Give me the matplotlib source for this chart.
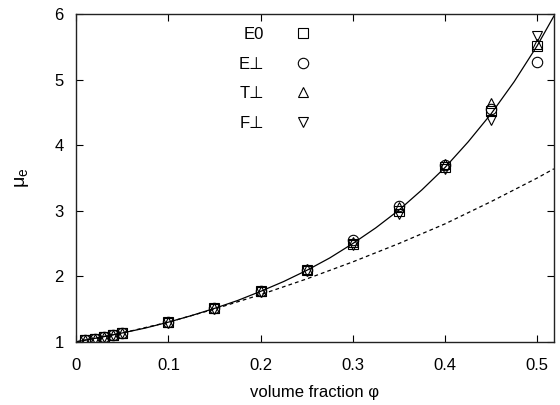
import matplotlib
matplotlib.use("Agg")
import matplotlib.pyplot as plt

plt.rcParams['font.family'] = ['Liberation Sans', 'DejaVu Sans']
plt.rcParams['mathtext.fontset'] = 'custom'
plt.rcParams['mathtext.rm'] = 'Liberation Sans'
plt.rcParams['mathtext.it'] = 'Liberation Sans'

# data points
phi = [0.01, 0.02, 0.03, 0.04, 0.05, 0.10, 0.15, 0.20, 0.25, 0.30, 0.35, 0.40, 0.45, 0.50]
E0 = [1.025, 1.05, 1.075, 1.10, 1.13, 1.30, 1.51, 1.77, 2.09, 2.50, 3.00, 3.67, 4.52, 5.52]
Eperp = [1.025, 1.05, 1.075, 1.10, 1.13, 1.30, 1.51, 1.78, 2.10, 2.55, 3.08, 3.70, 4.55, 5.27]
Tperp = [1.025, 1.05, 1.075, 1.10, 1.13, 1.31, 1.52, 1.78, 2.11, 2.52, 3.05, 3.72, 4.64, 5.55]
Fperp = [1.025, 1.05, 1.075, 1.10, 1.13, 1.29, 1.50, 1.76, 2.08, 2.48, 2.95, 3.63, 4.38, 5.67]

# curves
phi_solid = [0.0, 0.025, 0.05, 0.075, 0.1, 0.125, 0.15, 0.175, 0.2, 0.225, 0.25, 0.275,
             0.3, 0.325, 0.35, 0.375, 0.4, 0.425, 0.45, 0.475, 0.5, 0.518]
mu_solid = [1.0, 1.065, 1.135, 1.21, 1.30, 1.40, 1.51, 1.63, 1.77, 1.92, 2.09, 2.28,
            2.50, 2.74, 3.01, 3.32, 3.66, 4.05, 4.48, 4.97, 5.52, 5.97]
phi_dash = [0.0, 0.05, 0.1, 0.15, 0.2, 0.25, 0.3, 0.35, 0.4, 0.45, 0.5, 0.518]
mu_dash = [1.0, 1.135, 1.30, 1.50, 1.72, 1.96, 2.22, 2.50, 2.80, 3.14, 3.50, 3.64]

labels = ['E0', 'E\u22a5', 'T\u22a5', 'F\u22a5']
markers = ['s', 'o', '^', 'v']
series = [E0, Eperp, Tperp, Fperp]

fig = plt.figure(figsize=(5.6, 4.05), dpi=100)
ax = fig.add_axes([0.136, 0.156, 0.853, 0.809])

ax.plot(phi_solid, mu_solid, '-', color='black', lw=0.9)
ax.plot(phi_dash, mu_dash, '--', color='black', lw=0.9, dashes=(3, 2.5))

handles = []
for y, m, lab in zip(series, markers, labels):
    h, = ax.plot(phi, y, linestyle='none', marker=m, markersize=7.5,
                 markerfacecolor='none', markeredgecolor='black',
                 markeredgewidth=0.8, label=lab)
    handles.append(h)

ax.set_xlim(0, 0.518)
ax.set_ylim(1, 6)
ax.set_xticks([0, 0.1, 0.2, 0.3, 0.4, 0.5])
ax.set_xticklabels(['0', '0.1', '0.2', '0.3', '0.4', '0.5'])
ax.set_yticks([1, 2, 3, 4, 5, 6])
ax.tick_params(direction='in', length=5, width=0.8, top=True, right=True,
               labelsize=12, colors='black')
ax.tick_params(axis='x', pad=11.5)
ax.tick_params(axis='y', pad=9)
for s in ax.spines.values():
    s.set_linewidth(1.0)
    s.set_color('#222222')

ax.set_xlabel('volume fraction \u03c6', fontsize=12, labelpad=9)
ax.set_ylabel('\u03bc$_\\mathregular{e}$', fontsize=14, labelpad=17)

leg = ax.legend(handles=handles, loc='upper left', bbox_to_anchor=(0.34, 0.96),
                frameon=False, markerfirst=False, handlelength=2.0,
                handletextpad=1.3, labelspacing=0.87, fontsize=12,
                borderpad=0, borderaxespad=0)

fig.savefig('out.png', dpi=100)
